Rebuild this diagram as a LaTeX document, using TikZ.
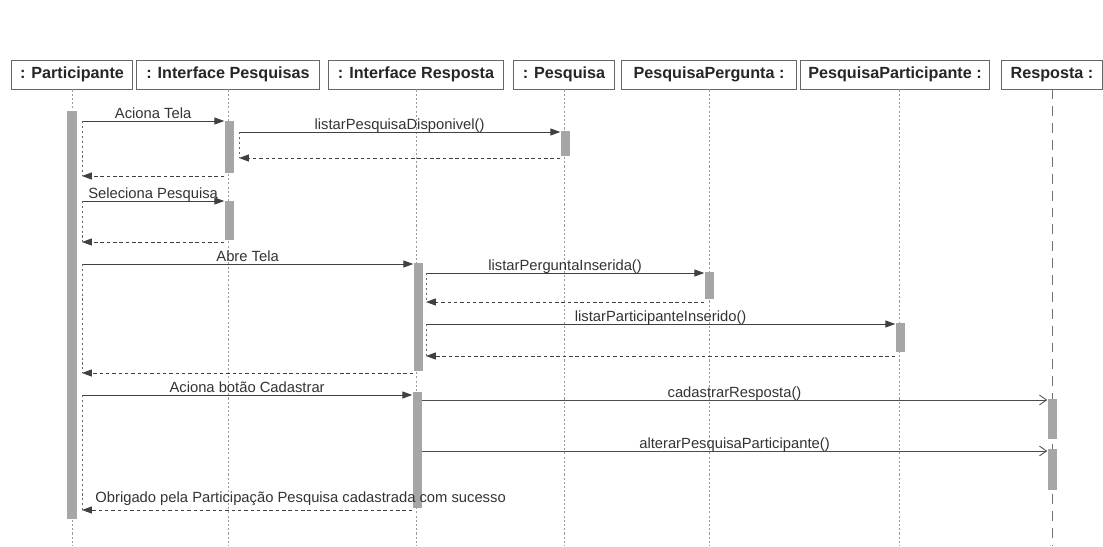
\documentclass[tikz,border=0pt]{standalone}
\usepackage{fontspec}
\setmainfont{Liberation Sans}
\usetikzlibrary{positioning, arrows.meta}
\tikzset{
  obj/.style={
    draw=black!60, line width=0.7pt, fill=white,
    font=\fontsize{11.5}{13}\selectfont\bfseries, text=black!85,
    minimum height=0.725cm, inner sep=2pt
  },
  lifeline/.style={draw=black!40, line width=0.5pt, dash pattern=on 1.5pt off 1.5pt},
  actbar/.style={fill=black!35, minimum width=0.225cm, inner sep=0pt, anchor=north},
  call/.style={draw=black!75, line width=0.6pt, -{Triangle[length=7pt, width=5pt]}},
  asyn/.style={draw=black!70, line width=0.6pt, -{Straight Barb[length=5pt, width=7pt]}},
  ret/.style={draw=black!75, line width=0.6pt, dash pattern=on 2.5pt off 2pt,
    -{Triangle[length=7pt, width=5pt]}},
  guide/.style={draw=black!60, line width=0.5pt, dash pattern=on 1.5pt off 2pt},
  msg/.style={font=\fontsize{10.5}{12}\selectfont, text=black!80,
    anchor=base, inner sep=0pt, yshift=2pt},
}

\begin{document}
\begin{tikzpicture}[x=0.025cm, y=-0.025cm]
  \useasboundingbox (0,0) rectangle (1103,546);

  % objetos
  \node[obj, minimum width=3cm]     (part)  at (72,74.5)   {: Participante};
  \node[obj, minimum width=4.575cm] (ipesq) at (228,74.5)  {: Interface Pesquisas};
  \node[obj, minimum width=4.375cm] (iresp) at (416,74.5)  {: Interface Resposta};
  \node[obj, minimum width=2.525cm] (pesq)  at (564,74.5)  {: Pesquisa};
  \node[obj, minimum width=4.35cm]  (pperg) at (709,74.5)  {PesquisaPergunta :};
  \node[obj, minimum width=4.7cm]   (ppart) at (895,74.5)  {PesquisaParticipante :};
  \node[obj, minimum width=2.525cm] (resp)  at (1052,74.5) {Resposta :};

  % linhas de vida
  \foreach \o in {part, ipesq, iresp, pesq, pperg}
    \draw[lifeline] (\o.south) -- (\o.south |- 0,546);
  \draw[lifeline] (ppart.south -| 899,0) -- (899,546);
  \draw[lifeline, black!55, dash pattern=on 7pt off 5pt] (resp.south) -- (resp.south |- 0,546);

  % ativacoes
  \node[actbar, minimum height=10.2cm]  (aPart) at (72,111)   {};
  \node[actbar, minimum height=1.3cm]   (aIP1)  at (229,121)  {};
  \node[actbar, minimum height=0.625cm] (aPesq) at (565,131)  {};
  \node[actbar, minimum height=0.975cm] (aIP2)  at (229,201)  {};
  \node[actbar, minimum height=2.7cm]   (aIR1)  at (418,263)  {};
  \node[actbar, minimum height=0.675cm] (aPP)   at (709,272)  {};
  \node[actbar, minimum height=0.725cm] (aPPt)  at (900,323)  {};
  \node[actbar, minimum height=2.9cm]   (aIR2)  at (417,392)  {};
  \node[actbar, minimum height=1cm]     (aR1)   at (1052,399) {};
  \node[actbar, minimum height=1.025cm] (aR2)   at (1052,449) {};

  \coordinate (gP)  at (82,0);
  \coordinate (gIP) at (239,0);
  \coordinate (gIR) at (426,0);

  % consulta das pesquisas
  \draw[call] (gP |- 0,121) -- node[msg] {Aciona Tela} (aIP1.west |- 0,121);
  \draw[call] (gIP |- 0,132) -- node[msg] {listarPesquisaDisponivel()} (aPesq.west |- 0,132);
  \draw[guide] (gIP |- 0,132) -- (gIP |- 0,158);
  \draw[ret] (aPesq.west |- 0,158) -- (gIP |- 0,158);
  \draw[guide] (gP |- 0,121) -- (gP |- 0,176);
  \draw[ret] (aIP1.west |- 0,176) -- (gP |- 0,176);

  \draw[call] (gP |- 0,201) -- node[msg] {Seleciona Pesquisa} (aIP2.west |- 0,201);
  \draw[guide] (gP |- 0,201) -- (gP |- 0,242);
  \draw[ret] (aIP2.west |- 0,242) -- (gP |- 0,242);

  % tela de resposta
  \draw[call] (gP |- 0,264) -- node[msg] {Abre Tela} (aIR1.west |- 0,264);
  \draw[call] (gIR |- 0,273) -- node[msg] {listarPerguntaInserida()} (aPP.west |- 0,273);
  \draw[guide] (gIR |- 0,273) -- (gIR |- 0,302);
  \draw[ret] (aPP.west |- 0,302) -- (gIR |- 0,302);
  \draw[call] (gIR |- 0,324) -- node[msg] {listarParticipanteInserido()} (aPPt.west |- 0,324);
  \draw[guide] (gIR |- 0,324) -- (gIR |- 0,356);
  \draw[ret] (aPPt.west |- 0,356) -- (gIR |- 0,356);
  \draw[guide] (gP |- 0,264) -- (gP |- 0,373);
  \draw[ret] (aIR1.west |- 0,373) -- (gP |- 0,373);

  % cadastro
  \draw[call] (gP |- 0,395) -- node[msg] {Aciona botão Cadastrar} (aIR2.west |- 0,395);
  \draw[asyn] (aIR2.east |- 0,400) -- node[msg] {cadastrarResposta()} (aR1.west |- 0,400);
  \draw[asyn] (aIR2.east |- 0,451) -- node[msg] {alterarPesquisaParticipante()} (aR2.west |- 0,451);
  \draw[guide] (gP |- 0,395) -- (gP |- 0,510);
  \draw[ret] (aIR2.west |- 0,510) -- node[msg, pos=1, anchor=base west, xshift=0.325cm, yshift=3.5pt]
    {Obrigado pela Participação Pesquisa cadastrada com sucesso} (gP |- 0,510);

\end{tikzpicture}
\end{document}
